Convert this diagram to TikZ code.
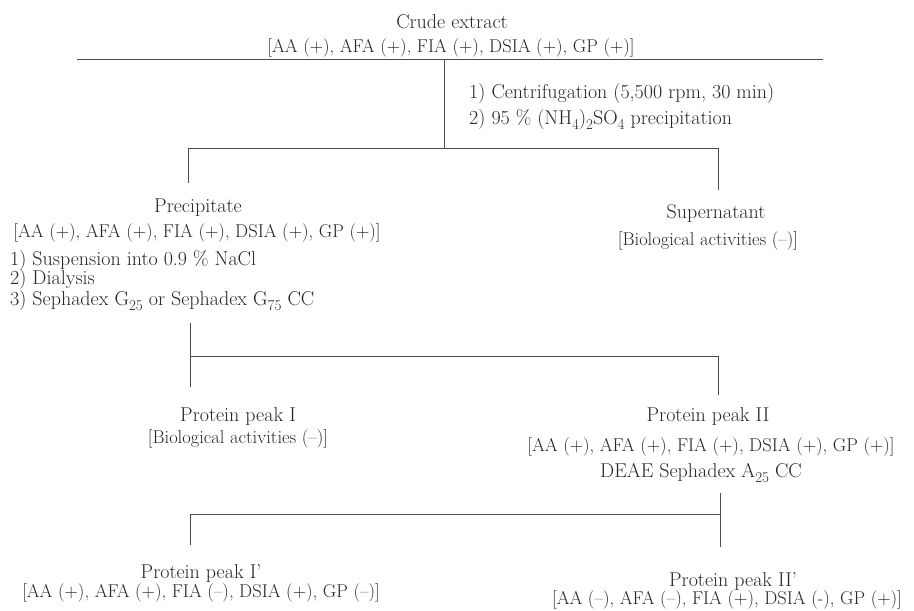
\documentclass[tikz,border=0pt]{standalone}

\newcommand{\lowsub}[1]{\raisebox{-5pt}{\fontsize{15}{15}\selectfont #1}}

\begin{document}
\begin{tikzpicture}[x=1pt,y=-1pt,
        lbl/.style={anchor=base,inner sep=0pt,text=black!85,font=\fontsize{20}{22}\selectfont},
        act/.style={lbl,font=\fontsize{18.5}{20}\selectfont},
        stp/.style={anchor=base west,inner sep=0pt,text=black!85,font=\fontsize{20}{22}\selectfont},
        bline/.style={line width=0.9pt,black!70}]
        \useasboundingbox (0,0) rectangle (914,611);

        % crude extract
        \node[lbl] (crude) at (452,28) {Crude extract};
        \node[act] (crudeact) at (451,52) {[AA (+), AFA (+), FIA (+), DSIA (+), GP (+)]};
        \node[stp] (centri) at (469,98) {1) Centrifugation (5,500 rpm, 30 min)};
        \node[stp] (ammon) at (469,124) {2) 95~\% (NH\lowsub{4})\lowsub{2}SO\lowsub{4} precipitation};

        % first split
        \node[lbl] (prec) at (198,212) {Precipitate};
        \node[act] (precact) at (197,237) {[AA (+), AFA (+), FIA (+), DSIA (+), GP (+)]};
        \node[lbl] (super) at (716,218) {Supernatant};
        \node[act] (superact) at (708,245) {[Biological activities (--)]};
        \node[stp] (susp) at (10,265) {1) Suspension into 0.9~\% NaCl};
        \node[stp] (dial) at (10,284) {2) Dialysis};
        \node[stp] (gel) at (10,305) {3) Sephadex G\lowsub{25} or Sephadex G\lowsub{75} CC};

        % gel filtration peaks
        \node[lbl] (peakI) at (238,421) {Protein peak I};
        \node[act] (peakIact) at (238,443) {[Biological activities (--)]};
        \node[lbl] (peakII) at (708,421) {Protein peak II};
        \node[act] (peakIIact) at (711,451) {[AA (+), AFA (+), FIA (+), DSIA (+), GP (+)]};
        \node[lbl] (deae) at (701,477) {DEAE Sephadex A\lowsub{25} CC};

        % ion exchange peaks
        \node[lbl] (peakIa) at (201,578) {Protein peak I'};
        \node[act] (peakIaact) at (201,597) {[AA (+), AFA (+), FIA (--), DSIA (+), GP (--)]};
        \node[lbl] (peakIIa) at (733,586) {Protein peak II'};
        \node[act] (peakIIaact) at (727,604) {[AA (--), AFA (--), FIA (+), DSIA (-), GP (+)]};

        % connectors
        \coordinate (topL) at (77,59);
        \coordinate (topR) at (823,59);
        \coordinate (split1) at (444,59);
        \coordinate (fork1) at (444,148);
        \coordinate (fork1L) at (188,148);
        \coordinate (fork1R) at (718,148);
        \coordinate (prectop) at (188,183);
        \coordinate (supertop) at (718,190);
        \draw[bline] (topL) -- (topR);
        \draw[bline] (split1) -- (fork1);
        \draw[bline] (prectop) -- (fork1L) -- (fork1R) -- (supertop);

        \coordinate (gelbot) at (190,323);
        \coordinate (fork2L) at (190,356);
        \coordinate (fork2R) at (718,356);
        \coordinate (peakItop) at (190,387);
        \coordinate (peakIItop) at (718,395);
        \draw[bline] (gelbot) -- (peakItop);
        \draw[bline] (fork2L) -- (fork2R) -- (peakIItop);

        \coordinate (deaebot) at (720,493);
        \coordinate (fork3R) at (720,514);
        \coordinate (fork3L) at (190,514);
        \coordinate (peakIatop) at (190,545);
        \coordinate (peakIIatop) at (720,547);
        \draw[bline] (deaebot) -- (peakIIatop);
        \draw[bline] (fork3R) -- (fork3L) -- (peakIatop);
\end{tikzpicture}
\end{document}
